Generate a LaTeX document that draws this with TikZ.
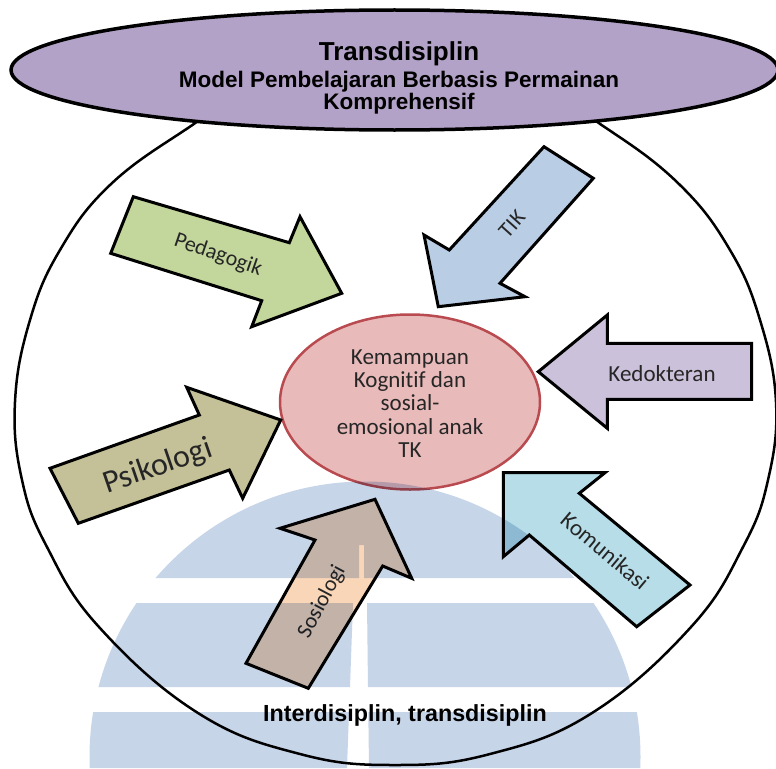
\documentclass[tikz,border=0pt]{standalone}
\usepackage{fontspec}
\setmainfont{Carlito}[Ligatures=NoCommon]
\newfontfamily\headfont{Liberation Sans}
\usetikzlibrary{shapes.geometric}

\definecolor{titlefill}{RGB}{179,162,199}
\definecolor{pedfill}{RGB}{195,214,155}
\definecolor{tikfill}{RGB}{185,205,229}
\definecolor{kedfill}{RGB}{204,193,218}
\definecolor{psifill}{RGB}{196,192,151}
\definecolor{komfill}{RGB}{183,222,232}
\definecolor{sosfill}{RGB}{250,214,184}
\definecolor{corefill}{RGB}{232,186,186}
\definecolor{coreline}{RGB}{185,75,80}
\definecolor{markblue}{RGB}{199,213,233}
\definecolor{labeltext}{RGB}{38,38,38}

\begin{document}
\begin{tikzpicture}[x=1pt,y=-1pt,
  blockarrow/.style={draw=black, line width=3pt, line join=miter, miter limit=4},
  lbl/.style={text=labeltext, inner sep=0pt, font=\fontsize{22}{24}\selectfont},
  headline/.style={inner sep=0pt, anchor=base, font=\headfont\bfseries\fontsize{22.5}{25}\selectfont},
]
\useasboundingbox (0,0) rectangle (776,768);
\fill[white] (0,0) rectangle (776,768);

% outer boundary
\draw[line width=2.5pt] plot[smooth cycle, tension=0.7] coordinates {
  (395,60) (260,85) (188,128) (110,185) (60,250) (30,320) (15,402)
  (22,480) (47,547) (99,627) (198,713) (300,754) (395,765) (490,754)
  (592,713) (691,627) (743,547) (768,480) (776,402) (760,320)
  (730,250) (680,185) (606,128) (530,85)};

% title ellipse
\node[ellipse, draw=black, line width=3.5pt, fill=titlefill,
      minimum width=767pt, minimum height=120pt, inner sep=0pt] (title) at (394.5,70) {};
\node[headline, font=\headfont\bfseries\fontsize{26}{30}\selectfont] (t1) at (399,61) {Transdisiplin};
\node[headline] (t2) at (399,87) {Model Pembelajaran Berbasis Permainan};
\node[headline] (t3) at (399,109) {Komprehensif};

% central goal
\node[ellipse, draw=coreline, line width=2.5pt, fill=corefill,
      minimum width=260pt, minimum height=175pt, inner sep=0pt] (core) at (410,402) {};
\node[text=labeltext, align=center, inner sep=0pt,
      font=\fontsize{23}{23.3}\selectfont] (coretext) at (410,403.4)
  {Kemampuan\\Kognitif dan\\sosial-\\emosional anak\\TK};

% contributing disciplines
\filldraw[blockarrow, fill=pedfill] (133.3,196.7) -- (289.3,242.7) -- (300,216.7)
  -- (341.7,293.3) -- (251.7,326.7) -- (261.7,300.7) -- (110.7,253.3) -- cycle;
\node[lbl, rotate=-19] (lped) at (218,255) {Pedagogik};

\filldraw[blockarrow, fill=tikfill] (544,146.7) -- (593.3,178.3) -- (500,283.3)
  -- (525,296.7) -- (438.3,306.7) -- (424,235) -- (449.3,250) -- cycle;
\node[lbl, rotate=48] (ltik) at (512,224) {TIK};

\filldraw[blockarrow, fill=kedfill] (538.3,371.7) -- (607.3,315) -- (607.3,343.3)
  -- (751.7,343.3) -- (751.7,399.3) -- (607.3,399.3) -- (607.3,428.3) -- cycle;
\node[lbl, font=\fontsize{23}{25}\selectfont] (lked) at (662,374) {Kedokteran};

\filldraw[blockarrow, fill=psifill] (50,468.3) -- (199.3,415) -- (186.7,387.3)
  -- (280.7,420) -- (242.7,498.3) -- (229.3,470) -- (78.3,523.3) -- cycle;
\node[lbl, rotate=19, font=\fontsize{32}{34}\selectfont] (lpsi) at (158,467) {Psikologi};

\filldraw[blockarrow, fill=komfill] (503.3,472.7) -- (605,472.7) -- (579.3,493.3)
  -- (690,585) -- (636.7,626.7) -- (529.3,535) -- (503.3,556.7) -- cycle;
\node[lbl, rotate=-40, font=\fontsize{23}{25}\selectfont] (lkom) at (605,551) {Komunikasi};

\filldraw[blockarrow, fill=sosfill] (375,499.3) -- (411.7,578.3) -- (382.7,566)
  -- (308.3,688.3) -- (246,663.3) -- (315,540) -- (280,528.3) -- cycle;
\node[lbl, rotate=62] (lsos) at (322,602) {Sosiologi};

\node[inner sep=0pt, anchor=base, font=\headfont\bfseries\fontsize{23.3}{26}\selectfont]
  (lbottom) at (405,721) {Interdisiplin, transdisiplin};

% pale globe emblem laid over the page
\begin{scope}[blend mode=multiply]
  \clip (365,757) circle[radius=275.5pt];
  \fill[markblue] (0,470) -- (776,470) -- (776,578) -- (364,578) -- (364,545)
    -- (359,545) -- (359,578) -- (0,578) -- cycle;
  \fill[markblue] (0,603) -- (353,603) -- (350,687) -- (0,687) -- cycle;
  \fill[markblue] (367,603) -- (776,603) -- (776,687) -- (368,687) -- cycle;
  \fill[markblue] (0,712) -- (349,712) -- (347,768) -- (0,768) -- cycle;
  \fill[markblue] (368.3,712) -- (776,712) -- (776,768) -- (369,768) -- cycle;
\end{scope}
\end{tikzpicture}
\end{document}
